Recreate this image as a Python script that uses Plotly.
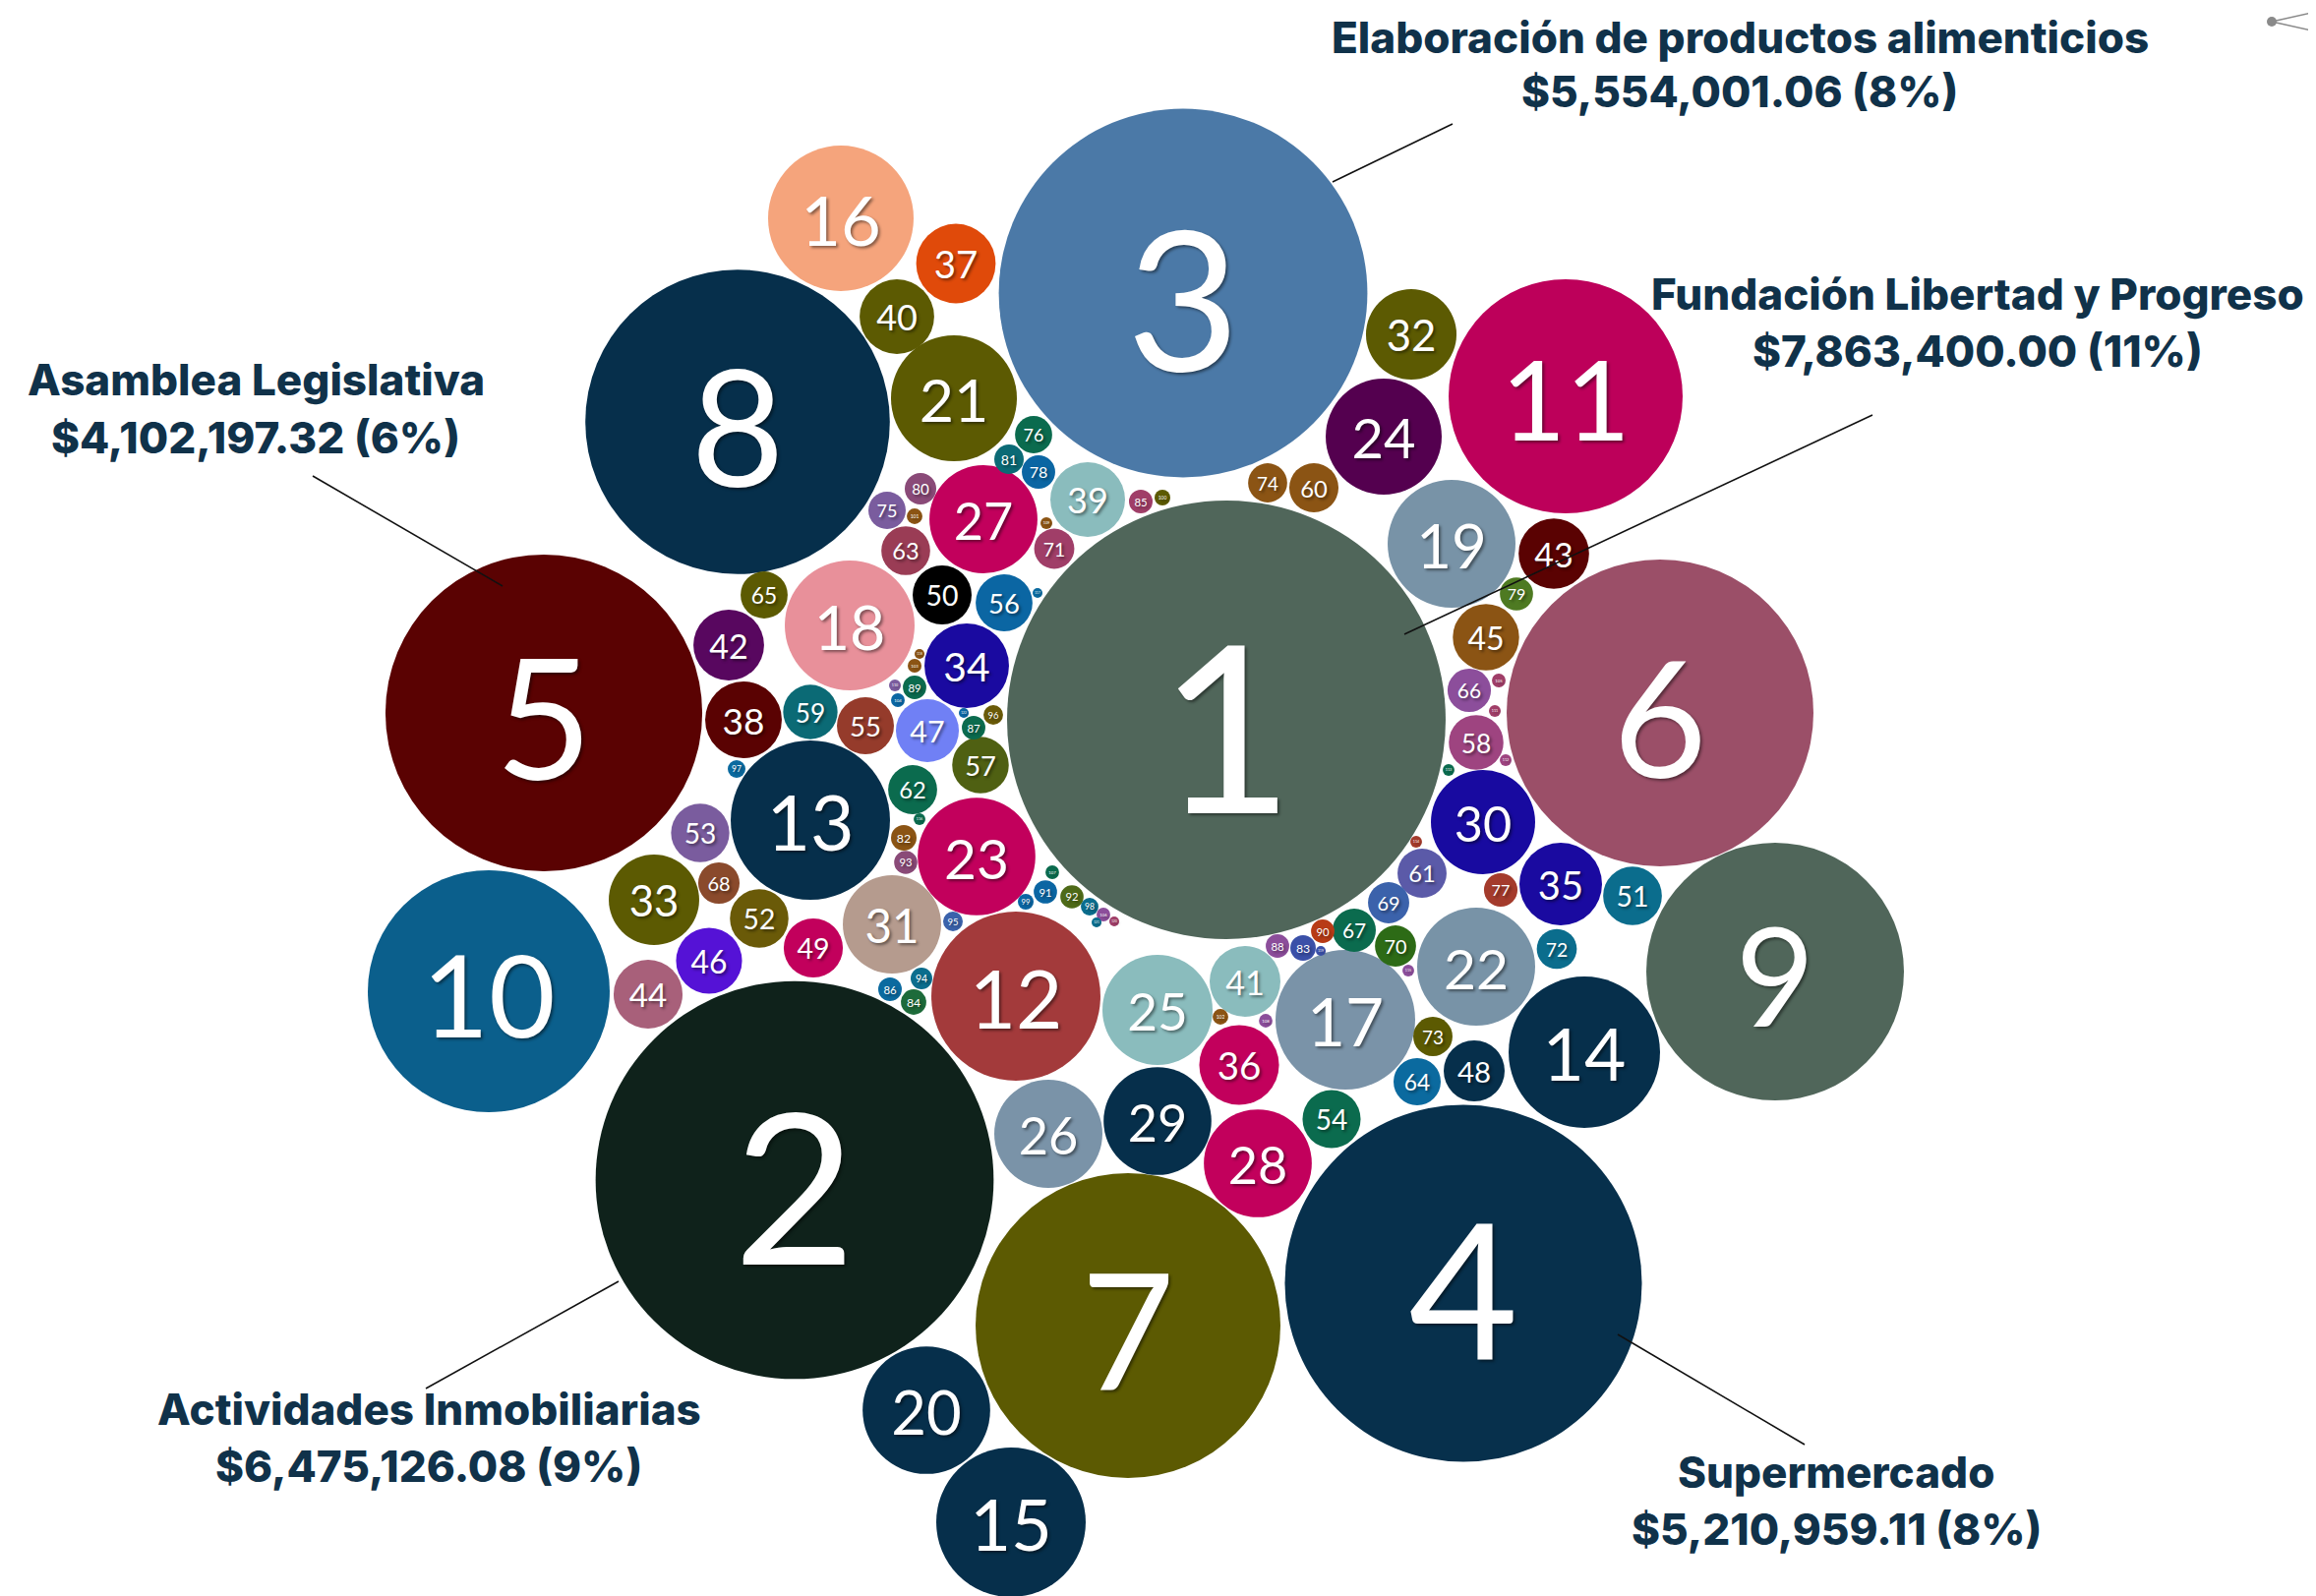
import plotly.graph_objects as go

# ---------------- data ----------------
labels = list(range(1, 123))

amounts = [
    7863400.00, 6475126.08, 5554001.06, 5210959.11, 4102197.32, 3848000, 3799000, 3790000, 2713000, 2392000,
    2239000, 1169000, 1037000, 937000, 913000, 866000, 797000, 689000, 668000, 665000,
    648000, 569000, 566000, 550000, 496000, 478000, 477000, 476000, 475000, 444000,
    395000, 335000, 334000, 292000, 279000, 260000, 258000, 240000, 228000, 227000,
    205000, 204000, 203000, 194000, 180000, 178000, 162000, 152000, 143000, 142000,
    141000, 140000, 139000, 138000, 133000, 132000, 131000, 122000, 121000, 99000,
    98500, 98000, 97500, 91000, 90500, 77000, 76500, 70000, 69500, 69000,
    66000, 65500, 63000, 62500, 57000, 56500, 46000, 45500, 45000, 40500,
    35500, 26700, 26500, 26300, 22800, 22700, 22600, 22500, 22400, 22300,
    22200, 22100, 22000, 19100, 15800, 15700, 12800, 12700, 10100, 10050,
    10000, 9950, 7750, 7700, 7650, 7600, 7550, 7500, 5700, 5680,
    5660, 5640, 5620, 5600, 5580, 5560, 3950, 3940, 3930, 3920,
    3910, 3900,
]

# bubble centre positions (layout of the packed-bubble chart)
pos_x = [
    1247, 808, 1203, 1488, 553, 1688, 1147, 750, 1805, 497,
    1592, 1033, 824, 1611, 1028, 855, 1368, 864, 1476, 942,
    970, 1501, 993, 1407, 1177, 1066, 1000, 1279, 1177, 1508,
    907, 1435, 665, 983, 1587, 1260, 972, 756, 1106, 912,
    1266, 741, 1580, 659, 1511, 721, 943, 1499, 827, 958,
    1660, 772, 712, 1354, 880, 1021, 997, 1501, 824, 1336,
    1446, 928, 921, 1441, 777, 1494, 1377, 731, 1412, 1419,
    1072, 1583, 1457, 1289, 902, 1051, 1526, 1056, 1542, 936,
    1026, 919, 1325, 929, 1160, 905, 990, 1299, 930, 1345,
    1063, 1090, 921, 937, 969, 1010, 749, 1108, 1043, 1182,
    930, 1241, 930, 913, 1524, 1122, 1070, 1287, 1064, 910,
    1520, 1531, 1473, 1440, 1432, 935, 1055, 935, 1343, 1133,
    1115, 980,
]
pos_y = [
    732, 1200, 298, 1305, 725, 725, 1348, 429, 988, 1008,
    403, 1013, 834, 1070, 1548, 222, 1037, 636, 553, 1434,
    405, 983, 871, 444, 1027, 1153, 528, 1183, 1140, 836,
    940, 340, 915, 677, 899, 1083, 268, 732, 508, 322,
    998, 656, 563, 1011, 648, 977, 743, 1089, 964, 605,
    911, 934, 847, 1138, 738, 613, 778, 755, 724, 496,
    888, 803, 560, 1100, 605, 702, 946, 898, 918, 962,
    558, 965, 1054, 491, 519, 442, 905, 480, 604, 497,
    467, 852, 964, 1019, 510, 1006, 740, 962, 699, 947,
    907, 912, 877, 995, 937, 727, 782, 922, 917, 506,
    525, 1034, 677, 712, 692, 930, 887, 1038, 532, 697,
    723, 773, 783, 856, 987, 833, 603, 665, 967, 937,
    938, 725,
]

colors = [
    "#50665a", "#0f221b", "#4b79a7", "#07304c", "#5a0202", "#9b4f68", "#5c5a02", "#062f4b", "#50665a", "#0b5f8c",
    "#bd005a", "#a33a3b", "#062f4b", "#062f4b", "#062f4b", "#f5a47c", "#7a93a8", "#e8909a", "#7893a7", "#062f4b",
    "#5c5a02", "#7893a7", "#c2005c", "#54004f", "#8abcbd", "#7a93a8", "#c2005c", "#c2005c", "#062f4b", "#180aa0",
    "#b59b8e", "#5c5a02", "#5c5a02", "#1a0aa0", "#1a0aa0", "#c2005c", "#e04a0a", "#5a0202", "#8abcbd", "#5c5a02",
    "#8abcbd", "#58075f", "#5a0202", "#a8607a", "#8b5414", "#5512d6", "#7080f5", "#062f4b", "#c2005c", "#000000",
    "#0b6d8d", "#6a5a08", "#7a5c9e", "#0b6b4e", "#953b2b", "#0b66a3", "#4f6012", "#9e4480", "#0b6a75", "#8b5414",
    "#5b5aa8", "#0b6b4e", "#9a3c55", "#0b6a9f", "#5c5a02", "#8c4e9b", "#0b6b4e", "#8a4a2c", "#3b62ab", "#2d6b16",
    "#a03e68", "#0b6d8d", "#5c5a02", "#8b5414", "#7a5c9e", "#0b6b4e", "#a43b2c", "#0b66a3", "#4e7a22", "#8a4a78",
    "#0b6a75", "#8b5414", "#3b50a8", "#1d6b3a", "#a03e68", "#0b6a9f", "#0b6b4e", "#8c4e9b", "#0b6b4e", "#b83b16",
    "#0b66a3", "#4e6a18", "#8a4a78", "#0b6d8d", "#3b62ab", "#6a5a08", "#0b6a9f", "#0b6d8d", "#0b66a3", "#5c5a02",
    "#8b5414", "#8b5414", "#8b5414", "#0b66a3", "#a03e68", "#8c4e9b", "#0b6b4e", "#8c4e9b", "#8b5414", "#7a5c9e",
    "#a03e68", "#9e4480", "#0b6b4e", "#a43b2c", "#8c4e9b", "#0b6b4e", "#0b6a9f", "#8b5414", "#3b50a8", "#a03e68",
    "#0b6d8d", "#0b66a3",
]

callout_names = [
    "Elaboración de productos alimenticios",
    "Fundación Libertad y Progreso",
    "Asamblea Legislativa",
    "Actividades Inmobiliarias",
    "Supermercado",
]
callout_values = [
    "$5,554,001.06 (8%)",
    "$7,863,400.00 (11%)",
    "$4,102,197.32 (6%)",
    "$6,475,126.08 (9%)",
    "$5,210,959.11 (8%)",
]

# ---------------- styling ----------------
W, H = 2355, 1623
OFF = 8  # default page body margin
R_MAX = 223.0
sizeref = amounts[0] / (2 * R_MAX ** 2)   # plotly 'area' sizing: r = sqrt(v / (2*sizeref))

radii = [(v / (2 * sizeref)) ** 0.5 for v in amounts]
font_sizes = []
for lab, r in zip(labels, radii):
    n = len(str(lab))
    f = {1: 1.06, 2: 0.95, 3: 0.62}[n]
    font_sizes.append(max(3, r * f))
# optical vertical centring of the digits
text_y = [y + 0.15 * fs for y, fs in zip(pos_y, font_sizes)]

fig = go.Figure()
fig.add_trace(go.Scatter(
    x=pos_x, y=pos_y,
    mode="markers",
    marker=dict(size=amounts, sizemode="area", sizeref=sizeref, color=colors,
                line=dict(width=0), opacity=1),
    hoverinfo="skip",
    cliponaxis=False,
))
fig.add_trace(go.Scatter(
    x=pos_x, y=text_y,
    mode="text",
    text=[str(l) for l in labels],
    textposition="middle center",
    textfont=dict(family="Lato, Open Sans, sans-serif", color="white", size=font_sizes,
                  shadow="2px 2px 3px rgba(0,0,0,0.45)"),
    hoverinfo="skip",
    cliponaxis=False,
))

TXT = "#10324a"
ann_x = [1769, 2011, 260, 436, 1867]
ann_y1 = [38, 299, 386, 1433, 1497]
ann_y2 = [93, 357, 445, 1491, 1555]
for name, val, ax, y1, y2 in zip(callout_names, callout_values, ann_x, ann_y1, ann_y2):
    for txt, ay in ((name, y1), (val, y2)):
        fig.add_annotation(x=ax, y=ay, xref="x", yref="y", showarrow=False,
                           text=txt, align="center",
                           font=dict(family="Inter, Poppins, sans-serif", size=44, color=TXT, weight=800))

leader_lines = [
    ((1355, 185), (1477, 126)),
    ((1428, 645), (1904, 422)),
    ((318, 484), (511, 596)),
    ((433, 1412), (629, 1303)),
    ((1645, 1357), (1835, 1469)),
]
for (x0, y0), (x1, y1) in leader_lines:
    fig.add_shape(type="line", x0=x0, y0=y0, x1=x1, y1=y1, xref="x", yref="y",
                  line=dict(color="#111111", width=1.6), layer="above")

# share icon (top-right corner)
fig.add_shape(type="line", x0=2310, y0=22, x1=2355, y1=12, line=dict(color="#8a8a8a", width=1.5))
fig.add_shape(type="line", x0=2310, y0=22, x1=2355, y1=32, line=dict(color="#8a8a8a", width=1.5))
fig.add_shape(type="circle", x0=2305, y0=17, x1=2315, y1=27, fillcolor="#8a8a8a", line=dict(width=0))

fig.update_layout(
    width=W, height=H,
    margin=dict(l=0, r=0, t=0, b=0),
    paper_bgcolor="white", plot_bgcolor="white",
    xaxis=dict(range=[OFF, W + OFF], visible=False, fixedrange=True),
    yaxis=dict(range=[H + OFF, OFF], visible=False, fixedrange=True),
    showlegend=False,
    hovermode=False,
)

fig.write_html("out.html", config={"displayModeBar": False})
